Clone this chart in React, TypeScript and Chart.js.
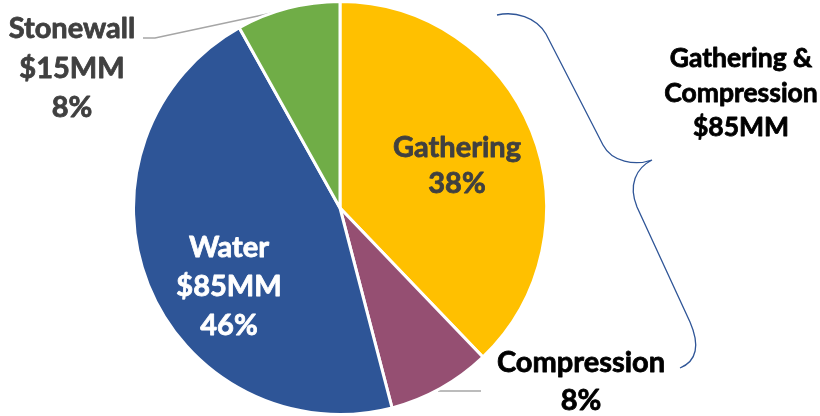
import React, { useEffect, useRef } from "react";
import { Chart, registerables } from "chart.js";

Chart.register(...registerables);

const categories = ["Gathering", "Compression", "Water", "Stonewall"];
const valuesMM = [70, 15, 85, 15];
const sliceColors = ["#FFC000", "#954F72", "#2E5597", "#70AD47"];
const groupTitle = ["Gathering &", "Compression"];

const FONT = "Lato, 'Open Sans', sans-serif";

export default function App() {
  const ref = useRef<HTMLCanvasElement | null>(null);

  useEffect(() => {
    document.body.style.margin = "0";
    const canvas = ref.current;
    if (!canvas) return;
    const total = valuesMM.reduce((a, b) => a + b, 0);
    const pct = (v: number) => `${Math.round((v / total) * 100)}%`;
    const mm = (v: number) => `$${v}MM`;

    const drawLines = (ctx: CanvasRenderingContext2D, lines: string[], x: number, baselines: number[], color: string, size: number) => {
      ctx.save();
      ctx.fillStyle = color;
      ctx.strokeStyle = color;
      ctx.lineWidth = 0.8;
      ctx.lineJoin = "round";
      ctx.font = `bold ${size}px ${FONT}`;
      ctx.textAlign = "center";
      ctx.textBaseline = "alphabetic";
      lines.forEach((t, i) => {
        ctx.fillText(t, x, baselines[i]);
        ctx.strokeText(t, x, baselines[i]);
      });
      ctx.restore();
    };

    const annotations = {
      id: "annotations",
      beforeDatasetsDraw(chart: any) {
        const ctx = chart.ctx as CanvasRenderingContext2D;
        ctx.save();
        ctx.strokeStyle = "#A6A6A6";
        ctx.lineWidth = 1.5;
        ctx.beginPath();
        ctx.moveTo(143, 38);
        ctx.lineTo(155, 38);
        ctx.lineTo(286, 10);
        ctx.stroke();
        ctx.beginPath();
        ctx.moveTo(438, 391);
        ctx.lineTo(481, 391);
        ctx.stroke();
        ctx.restore();
      },
      afterDraw(chart: any) {
        const ctx = chart.ctx as CanvasRenderingContext2D;
        ctx.save();
        ctx.strokeStyle = "#2F5597";
        ctx.lineWidth = 1.3;
        ctx.beginPath();
        ctx.moveTo(497, 15);
        ctx.bezierCurveTo(515, 11, 536, 17, 546, 34);
        ctx.lineTo(603, 145);
        ctx.bezierCurveTo(612, 162, 635, 166, 652, 160);
        ctx.bezierCurveTo(636, 168, 628, 185, 637, 207);
        ctx.lineTo(690, 322);
        ctx.bezierCurveTo(700, 345, 697, 361, 680, 368);
        ctx.stroke();
        ctx.restore();

        drawLines(ctx, [categories[0], pct(valuesMM[0])], 457, [157, 193], "#404040", 29);
        drawLines(ctx, [categories[1], pct(valuesMM[1])], 581, [372, 410], "#000000", 29);
        drawLines(ctx, [categories[2], mm(valuesMM[2]), pct(valuesMM[2])], 229, [257, 296, 335], "#FFFFFF", 29);
        drawLines(ctx, [categories[3], mm(valuesMM[3]), pct(valuesMM[3])], 72, [38, 78, 117], "#404040", 29);
        drawLines(ctx, [groupTitle[0], groupTitle[1], mm(valuesMM[0] + valuesMM[1])], 741, [67, 102, 136], "#000000", 26.5);
      },
    };

    const chart = new Chart(canvas, {
      type: "pie",
      data: {
        labels: categories,
        datasets: [
          {
            data: valuesMM,
            backgroundColor: sliceColors,
            borderColor: "#FFFFFF",
            borderWidth: 3,
          },
        ],
      },
      options: {
        responsive: false,
        animation: false,
        devicePixelRatio: 1,
        layout: { padding: { left: 132, right: 272, top: 0, bottom: 0 } },
        plugins: {
          legend: { display: false },
          tooltip: { enabled: false },
        },
      },
      plugins: [annotations],
    });
    return () => chart.destroy();
  }, []);

  return (
    <div style={{ position: "absolute", left: 0, top: 0, width: 820, height: 416, background: "#fff" }}>
      <canvas ref={ref} width={820} height={416} />
    </div>
  );
}
